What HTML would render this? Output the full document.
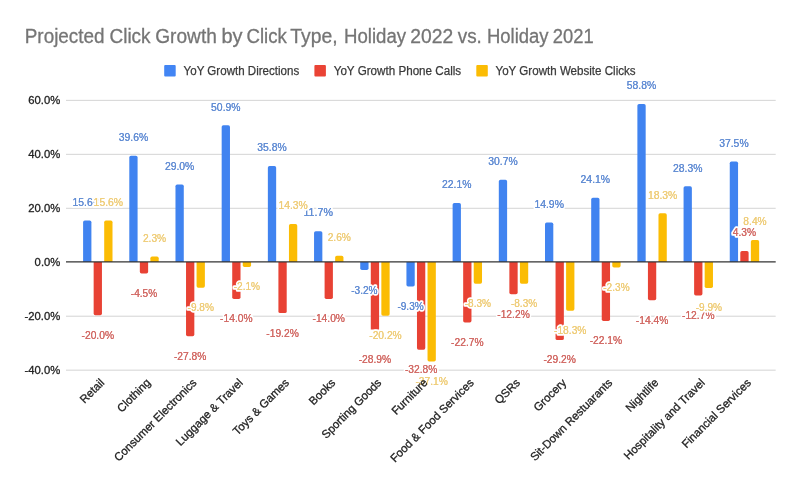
<!DOCTYPE html><html><head><meta charset="utf-8"><style>html,body{margin:0;padding:0;background:#fff}svg{display:block}text{font-family:"Liberation Sans",sans-serif}</style></head><body>
<svg width="800" height="494" viewBox="0 0 800 494">
<rect width="800" height="494" fill="#fff"/>
<g opacity="0.999">
<text x="24.75" y="42.9" font-size="20" fill="#757575" stroke="#757575" stroke-width="0.3" textLength="79.85" lengthAdjust="spacingAndGlyphs">Projected</text>
<text x="109.50" y="42.9" font-size="20" fill="#757575" stroke="#757575" stroke-width="0.3" textLength="41.10" lengthAdjust="spacingAndGlyphs">Click</text>
<text x="155.25" y="42.9" font-size="20" fill="#757575" stroke="#757575" stroke-width="0.3" textLength="61.60" lengthAdjust="spacingAndGlyphs">Growth</text>
<text x="221.50" y="42.9" font-size="20" fill="#757575" stroke="#757575" stroke-width="0.3" textLength="21.10" lengthAdjust="spacingAndGlyphs">by</text>
<text x="246.50" y="42.9" font-size="20" fill="#757575" stroke="#757575" stroke-width="0.3" textLength="40.35" lengthAdjust="spacingAndGlyphs">Click</text>
<text x="290.25" y="42.9" font-size="20" fill="#757575" stroke="#757575" stroke-width="0.3" textLength="47.35" lengthAdjust="spacingAndGlyphs">Type,</text>
<text x="344.00" y="42.9" font-size="20" fill="#757575" stroke="#757575" stroke-width="0.3" textLength="62.10" lengthAdjust="spacingAndGlyphs">Holiday</text>
<text x="410.25" y="42.9" font-size="20" fill="#757575" stroke="#757575" stroke-width="0.3" textLength="42.85" lengthAdjust="spacingAndGlyphs">2022</text>
<text x="457.75" y="42.9" font-size="20" fill="#757575" stroke="#757575" stroke-width="0.3" textLength="24.10" lengthAdjust="spacingAndGlyphs">vs.</text>
<text x="487.00" y="42.9" font-size="20" fill="#757575" stroke="#757575" stroke-width="0.3" textLength="61.60" lengthAdjust="spacingAndGlyphs">Holiday</text>
<text x="552.75" y="42.9" font-size="20" fill="#757575" stroke="#757575" stroke-width="0.3" textLength="40.85" lengthAdjust="spacingAndGlyphs">2021</text>
<rect x="164.2" y="64.9" width="11.5" height="11.5" rx="1" fill="#4285f4"/>
<text x="183.6" y="75.1" font-size="12" fill="#3a3a3a" stroke="#3a3a3a" stroke-width="0.25" textLength="115.6" lengthAdjust="spacingAndGlyphs">YoY Growth Directions</text>
<rect x="314.4" y="64.9" width="11.5" height="11.5" rx="1" fill="#ea4335"/>
<text x="333.7" y="75.1" font-size="12" fill="#3a3a3a" stroke="#3a3a3a" stroke-width="0.25" textLength="127.5" lengthAdjust="spacingAndGlyphs">YoY Growth Phone Calls</text>
<rect x="476.3" y="64.9" width="11.5" height="11.5" rx="1" fill="#fbbc04"/>
<text x="495.5" y="75.1" font-size="12" fill="#3a3a3a" stroke="#3a3a3a" stroke-width="0.25" textLength="140.1" lengthAdjust="spacingAndGlyphs">YoY Growth Website Clicks</text>
<line x1="66" x2="775.7" y1="100.37" y2="100.37" stroke="#d4d4d4" stroke-width="1"/>
<line x1="66" x2="775.7" y1="154.33" y2="154.33" stroke="#d4d4d4" stroke-width="1"/>
<line x1="66" x2="775.7" y1="208.29" y2="208.29" stroke="#d4d4d4" stroke-width="1"/>
<line x1="66" x2="775.7" y1="316.21" y2="316.21" stroke="#d4d4d4" stroke-width="1"/>
<line x1="66" x2="775.7" y1="370.17" y2="370.17" stroke="#d4d4d4" stroke-width="1"/>
<text x="60.3" y="104.12" font-size="11.5" fill="#222" stroke="#222" stroke-width="0.3" text-anchor="end" textLength="31.96" lengthAdjust="spacingAndGlyphs">60.0%</text>
<text x="60.3" y="158.08" font-size="11.5" fill="#222" stroke="#222" stroke-width="0.3" text-anchor="end" textLength="31.96" lengthAdjust="spacingAndGlyphs">40.0%</text>
<text x="60.3" y="212.04" font-size="11.5" fill="#222" stroke="#222" stroke-width="0.3" text-anchor="end" textLength="31.96" lengthAdjust="spacingAndGlyphs">20.0%</text>
<text x="60.3" y="266.00" font-size="11.5" fill="#222" stroke="#222" stroke-width="0.3" text-anchor="end" textLength="25.69" lengthAdjust="spacingAndGlyphs">0.0%</text>
<text x="60.3" y="319.96" font-size="11.5" fill="#222" stroke="#222" stroke-width="0.3" text-anchor="end" textLength="35.71" lengthAdjust="spacingAndGlyphs">-20.0%</text>
<text x="60.3" y="373.92" font-size="11.5" fill="#222" stroke="#222" stroke-width="0.3" text-anchor="end" textLength="35.71" lengthAdjust="spacingAndGlyphs">-40.0%</text>
<path d="M83.10,262.0 V222.31 Q83.10,220.61 84.80,220.61 H89.70 Q91.40,220.61 91.40,222.31 V262.0 Z" fill="#4083f0"/>
<path d="M129.29,262.0 V157.56 Q129.29,155.86 130.99,155.86 H135.89 Q137.59,155.86 137.59,157.56 V262.0 Z" fill="#4083f0"/>
<path d="M175.48,262.0 V186.16 Q175.48,184.46 177.18,184.46 H182.08 Q183.78,184.46 183.78,186.16 V262.0 Z" fill="#4083f0"/>
<path d="M221.67,262.0 V127.07 Q221.67,125.37 223.37,125.37 H228.27 Q229.97,125.37 229.97,127.07 V262.0 Z" fill="#4083f0"/>
<path d="M267.86,262.0 V167.81 Q267.86,166.11 269.56,166.11 H274.46 Q276.16,166.11 276.16,167.81 V262.0 Z" fill="#4083f0"/>
<path d="M314.05,262.0 V232.83 Q314.05,231.13 315.75,231.13 H320.65 Q322.35,231.13 322.35,232.83 V262.0 Z" fill="#4083f0"/>
<path d="M360.24,262.0 V268.23 Q360.24,269.93 361.94,269.93 H366.84 Q368.54,269.93 368.54,268.23 V262.0 Z" fill="#4083f0"/>
<path d="M406.43,262.0 V284.69 Q406.43,286.39 408.13,286.39 H413.03 Q414.73,286.39 414.73,284.69 V262.0 Z" fill="#4083f0"/>
<path d="M452.62,262.0 V204.77 Q452.62,203.07 454.32,203.07 H459.22 Q460.92,203.07 460.92,204.77 V262.0 Z" fill="#4083f0"/>
<path d="M498.81,262.0 V181.57 Q498.81,179.87 500.51,179.87 H505.41 Q507.11,179.87 507.11,181.57 V262.0 Z" fill="#4083f0"/>
<path d="M545.00,262.0 V224.20 Q545.00,222.50 546.70,222.50 H551.60 Q553.30,222.50 553.30,224.20 V262.0 Z" fill="#4083f0"/>
<path d="M591.19,262.0 V199.38 Q591.19,197.68 592.89,197.68 H597.79 Q599.49,197.68 599.49,199.38 V262.0 Z" fill="#4083f0"/>
<path d="M637.38,262.0 V105.76 Q637.38,104.06 639.08,104.06 H643.98 Q645.68,104.06 645.68,105.76 V262.0 Z" fill="#4083f0"/>
<path d="M683.57,262.0 V188.05 Q683.57,186.35 685.27,186.35 H690.17 Q691.87,186.35 691.87,188.05 V262.0 Z" fill="#4083f0"/>
<path d="M729.76,262.0 V163.22 Q729.76,161.53 731.46,161.53 H736.36 Q738.06,161.53 738.06,163.22 V262.0 Z" fill="#4083f0"/>
<path d="M93.65,262.0 V313.56 Q93.65,315.26 95.35,315.26 H100.25 Q101.95,315.26 101.95,313.56 V262.0 Z" fill="#e84234"/>
<path d="M139.84,262.0 V271.74 Q139.84,273.44 141.54,273.44 H146.44 Q148.14,273.44 148.14,271.74 V262.0 Z" fill="#e84234"/>
<path d="M186.03,262.0 V334.60 Q186.03,336.30 187.73,336.30 H192.63 Q194.33,336.30 194.33,334.60 V262.0 Z" fill="#e84234"/>
<path d="M232.22,262.0 V297.37 Q232.22,299.07 233.92,299.07 H238.82 Q240.52,299.07 240.52,297.37 V262.0 Z" fill="#e84234"/>
<path d="M278.41,262.0 V311.40 Q278.41,313.10 280.11,313.10 H285.01 Q286.71,313.10 286.71,311.40 V262.0 Z" fill="#e84234"/>
<path d="M324.60,262.0 V297.37 Q324.60,299.07 326.30,299.07 H331.20 Q332.90,299.07 332.90,297.37 V262.0 Z" fill="#e84234"/>
<path d="M370.79,262.0 V337.57 Q370.79,339.27 372.49,339.27 H377.39 Q379.09,339.27 379.09,337.57 V262.0 Z" fill="#e84234"/>
<path d="M416.98,262.0 V348.09 Q416.98,349.79 418.68,349.79 H423.58 Q425.28,349.79 425.28,348.09 V262.0 Z" fill="#e84234"/>
<path d="M463.17,262.0 V320.84 Q463.17,322.54 464.87,322.54 H469.77 Q471.47,322.54 471.47,320.84 V262.0 Z" fill="#e84234"/>
<path d="M509.36,262.0 V292.52 Q509.36,294.22 511.06,294.22 H515.96 Q517.66,294.22 517.66,292.52 V262.0 Z" fill="#e84234"/>
<path d="M555.55,262.0 V338.38 Q555.55,340.08 557.25,340.08 H562.15 Q563.85,340.08 563.85,338.38 V262.0 Z" fill="#e84234"/>
<path d="M601.74,262.0 V319.23 Q601.74,320.93 603.44,320.93 H608.34 Q610.04,320.93 610.04,319.23 V262.0 Z" fill="#e84234"/>
<path d="M647.93,262.0 V298.45 Q647.93,300.15 649.63,300.15 H654.53 Q656.23,300.15 656.23,298.45 V262.0 Z" fill="#e84234"/>
<path d="M694.12,262.0 V293.86 Q694.12,295.56 695.82,295.56 H700.72 Q702.42,295.56 702.42,293.86 V262.0 Z" fill="#e84234"/>
<path d="M740.31,262.0 V252.80 Q740.31,251.10 742.01,251.10 H746.91 Q748.61,251.10 748.61,252.80 V262.0 Z" fill="#e84234"/>
<path d="M104.20,262.0 V222.31 Q104.20,220.61 105.90,220.61 H110.80 Q112.50,220.61 112.50,222.31 V262.0 Z" fill="#fbbc04"/>
<path d="M150.39,262.0 V258.19 Q150.39,256.49 152.09,256.49 H156.99 Q158.69,256.49 158.69,258.19 V262.0 Z" fill="#fbbc04"/>
<path d="M196.58,262.0 V286.04 Q196.58,287.74 198.28,287.74 H203.18 Q204.88,287.74 204.88,286.04 V262.0 Z" fill="#fbbc04"/>
<path d="M242.77,262.0 V265.27 Q242.77,266.97 244.47,266.97 H249.37 Q251.07,266.97 251.07,265.27 V262.0 Z" fill="#fbbc04"/>
<path d="M288.96,262.0 V225.82 Q288.96,224.12 290.66,224.12 H295.56 Q297.26,224.12 297.26,225.82 V262.0 Z" fill="#fbbc04"/>
<path d="M335.15,262.0 V257.39 Q335.15,255.69 336.85,255.69 H341.75 Q343.45,255.69 343.45,257.39 V262.0 Z" fill="#fbbc04"/>
<path d="M381.34,262.0 V314.10 Q381.34,315.80 383.04,315.80 H387.94 Q389.64,315.80 389.64,314.10 V262.0 Z" fill="#fbbc04"/>
<path d="M427.53,262.0 V359.70 Q427.53,361.40 429.23,361.40 H434.13 Q435.83,361.40 435.83,359.70 V262.0 Z" fill="#fbbc04"/>
<path d="M473.72,262.0 V281.99 Q473.72,283.69 475.42,283.69 H480.32 Q482.02,283.69 482.02,281.99 V262.0 Z" fill="#fbbc04"/>
<path d="M519.91,262.0 V281.99 Q519.91,283.69 521.61,283.69 H526.51 Q528.21,283.69 528.21,281.99 V262.0 Z" fill="#fbbc04"/>
<path d="M566.10,262.0 V308.97 Q566.10,310.67 567.80,310.67 H572.70 Q574.40,310.67 574.40,308.97 V262.0 Z" fill="#fbbc04"/>
<path d="M612.29,262.0 V265.81 Q612.29,267.51 613.99,267.51 H618.89 Q620.59,267.51 620.59,265.81 V262.0 Z" fill="#fbbc04"/>
<path d="M658.48,262.0 V215.03 Q658.48,213.33 660.18,213.33 H665.08 Q666.78,213.33 666.78,215.03 V262.0 Z" fill="#fbbc04"/>
<path d="M704.67,262.0 V286.31 Q704.67,288.01 706.37,288.01 H711.27 Q712.97,288.01 712.97,286.31 V262.0 Z" fill="#fbbc04"/>
<path d="M750.86,262.0 V241.74 Q750.86,240.04 752.56,240.04 H757.46 Q759.16,240.04 759.16,241.74 V262.0 Z" fill="#fbbc04"/>
<line x1="66" x2="775.7" y1="261.9" y2="261.9" stroke="#333" stroke-width="1.2"/>
<text x="87.25" y="205.81" font-size="11" fill="#628dd4" text-anchor="middle" stroke="#fff" stroke-width="3.7" stroke-linejoin="round" paint-order="stroke" textLength="29.47" lengthAdjust="spacingAndGlyphs">15.6%</text>
<text x="87.25" y="205.81" font-size="11" fill="#628dd4" text-anchor="middle" stroke="#628dd4" stroke-width="0.12" textLength="29.47" lengthAdjust="spacingAndGlyphs">15.6%</text>
<text x="133.44" y="141.06" font-size="11" fill="#628dd4" text-anchor="middle" stroke="#fff" stroke-width="3.7" stroke-linejoin="round" paint-order="stroke" textLength="29.47" lengthAdjust="spacingAndGlyphs">39.6%</text>
<text x="133.44" y="141.06" font-size="11" fill="#628dd4" text-anchor="middle" stroke="#628dd4" stroke-width="0.12" textLength="29.47" lengthAdjust="spacingAndGlyphs">39.6%</text>
<text x="179.63" y="169.66" font-size="11" fill="#628dd4" text-anchor="middle" stroke="#fff" stroke-width="3.7" stroke-linejoin="round" paint-order="stroke" textLength="29.47" lengthAdjust="spacingAndGlyphs">29.0%</text>
<text x="179.63" y="169.66" font-size="11" fill="#628dd4" text-anchor="middle" stroke="#628dd4" stroke-width="0.12" textLength="29.47" lengthAdjust="spacingAndGlyphs">29.0%</text>
<text x="225.82" y="110.57" font-size="11" fill="#628dd4" text-anchor="middle" stroke="#fff" stroke-width="3.7" stroke-linejoin="round" paint-order="stroke" textLength="29.47" lengthAdjust="spacingAndGlyphs">50.9%</text>
<text x="225.82" y="110.57" font-size="11" fill="#628dd4" text-anchor="middle" stroke="#628dd4" stroke-width="0.12" textLength="29.47" lengthAdjust="spacingAndGlyphs">50.9%</text>
<text x="272.01" y="151.31" font-size="11" fill="#628dd4" text-anchor="middle" stroke="#fff" stroke-width="3.7" stroke-linejoin="round" paint-order="stroke" textLength="29.47" lengthAdjust="spacingAndGlyphs">35.8%</text>
<text x="272.01" y="151.31" font-size="11" fill="#628dd4" text-anchor="middle" stroke="#628dd4" stroke-width="0.12" textLength="29.47" lengthAdjust="spacingAndGlyphs">35.8%</text>
<text x="318.20" y="216.33" font-size="11" fill="#628dd4" text-anchor="middle" stroke="#fff" stroke-width="3.7" stroke-linejoin="round" paint-order="stroke" textLength="29.47" lengthAdjust="spacingAndGlyphs">11.7%</text>
<text x="318.20" y="216.33" font-size="11" fill="#628dd4" text-anchor="middle" stroke="#628dd4" stroke-width="0.12" textLength="29.47" lengthAdjust="spacingAndGlyphs">11.7%</text>
<text x="364.39" y="294.33" font-size="11" fill="#628dd4" text-anchor="middle" stroke="#fff" stroke-width="3.7" stroke-linejoin="round" paint-order="stroke" textLength="26.33" lengthAdjust="spacingAndGlyphs">-3.2%</text>
<text x="364.39" y="294.33" font-size="11" fill="#628dd4" text-anchor="middle" stroke="#628dd4" stroke-width="0.12" textLength="26.33" lengthAdjust="spacingAndGlyphs">-3.2%</text>
<text x="410.58" y="309.79" font-size="11" fill="#628dd4" text-anchor="middle" stroke="#fff" stroke-width="3.7" stroke-linejoin="round" paint-order="stroke" textLength="26.33" lengthAdjust="spacingAndGlyphs">-9.3%</text>
<text x="410.58" y="309.79" font-size="11" fill="#628dd4" text-anchor="middle" stroke="#628dd4" stroke-width="0.12" textLength="26.33" lengthAdjust="spacingAndGlyphs">-9.3%</text>
<text x="456.77" y="188.27" font-size="11" fill="#628dd4" text-anchor="middle" stroke="#fff" stroke-width="3.7" stroke-linejoin="round" paint-order="stroke" textLength="29.47" lengthAdjust="spacingAndGlyphs">22.1%</text>
<text x="456.77" y="188.27" font-size="11" fill="#628dd4" text-anchor="middle" stroke="#628dd4" stroke-width="0.12" textLength="29.47" lengthAdjust="spacingAndGlyphs">22.1%</text>
<text x="502.96" y="165.07" font-size="11" fill="#628dd4" text-anchor="middle" stroke="#fff" stroke-width="3.7" stroke-linejoin="round" paint-order="stroke" textLength="29.47" lengthAdjust="spacingAndGlyphs">30.7%</text>
<text x="502.96" y="165.07" font-size="11" fill="#628dd4" text-anchor="middle" stroke="#628dd4" stroke-width="0.12" textLength="29.47" lengthAdjust="spacingAndGlyphs">30.7%</text>
<text x="549.15" y="207.70" font-size="11" fill="#628dd4" text-anchor="middle" stroke="#fff" stroke-width="3.7" stroke-linejoin="round" paint-order="stroke" textLength="29.47" lengthAdjust="spacingAndGlyphs">14.9%</text>
<text x="549.15" y="207.70" font-size="11" fill="#628dd4" text-anchor="middle" stroke="#628dd4" stroke-width="0.12" textLength="29.47" lengthAdjust="spacingAndGlyphs">14.9%</text>
<text x="595.34" y="182.88" font-size="11" fill="#628dd4" text-anchor="middle" stroke="#fff" stroke-width="3.7" stroke-linejoin="round" paint-order="stroke" textLength="29.47" lengthAdjust="spacingAndGlyphs">24.1%</text>
<text x="595.34" y="182.88" font-size="11" fill="#628dd4" text-anchor="middle" stroke="#628dd4" stroke-width="0.12" textLength="29.47" lengthAdjust="spacingAndGlyphs">24.1%</text>
<text x="641.53" y="89.26" font-size="11" fill="#628dd4" text-anchor="middle" stroke="#fff" stroke-width="3.7" stroke-linejoin="round" paint-order="stroke" textLength="29.47" lengthAdjust="spacingAndGlyphs">58.8%</text>
<text x="641.53" y="89.26" font-size="11" fill="#628dd4" text-anchor="middle" stroke="#628dd4" stroke-width="0.12" textLength="29.47" lengthAdjust="spacingAndGlyphs">58.8%</text>
<text x="687.72" y="171.55" font-size="11" fill="#628dd4" text-anchor="middle" stroke="#fff" stroke-width="3.7" stroke-linejoin="round" paint-order="stroke" textLength="29.47" lengthAdjust="spacingAndGlyphs">28.3%</text>
<text x="687.72" y="171.55" font-size="11" fill="#628dd4" text-anchor="middle" stroke="#628dd4" stroke-width="0.12" textLength="29.47" lengthAdjust="spacingAndGlyphs">28.3%</text>
<text x="733.91" y="146.72" font-size="11" fill="#628dd4" text-anchor="middle" stroke="#fff" stroke-width="3.7" stroke-linejoin="round" paint-order="stroke" textLength="29.47" lengthAdjust="spacingAndGlyphs">37.5%</text>
<text x="733.91" y="146.72" font-size="11" fill="#628dd4" text-anchor="middle" stroke="#628dd4" stroke-width="0.12" textLength="29.47" lengthAdjust="spacingAndGlyphs">37.5%</text>
<text x="97.80" y="338.66" font-size="11" fill="#d26a65" text-anchor="middle" stroke="#fff" stroke-width="3.7" stroke-linejoin="round" paint-order="stroke" textLength="32.51" lengthAdjust="spacingAndGlyphs">-20.0%</text>
<text x="97.80" y="338.66" font-size="11" fill="#d26a65" text-anchor="middle" stroke="#d26a65" stroke-width="0.12" textLength="32.51" lengthAdjust="spacingAndGlyphs">-20.0%</text>
<text x="143.99" y="296.84" font-size="11" fill="#d26a65" text-anchor="middle" stroke="#fff" stroke-width="3.7" stroke-linejoin="round" paint-order="stroke" textLength="26.33" lengthAdjust="spacingAndGlyphs">-4.5%</text>
<text x="143.99" y="296.84" font-size="11" fill="#d26a65" text-anchor="middle" stroke="#d26a65" stroke-width="0.12" textLength="26.33" lengthAdjust="spacingAndGlyphs">-4.5%</text>
<text x="190.18" y="359.70" font-size="11" fill="#d26a65" text-anchor="middle" stroke="#fff" stroke-width="3.7" stroke-linejoin="round" paint-order="stroke" textLength="32.51" lengthAdjust="spacingAndGlyphs">-27.8%</text>
<text x="190.18" y="359.70" font-size="11" fill="#d26a65" text-anchor="middle" stroke="#d26a65" stroke-width="0.12" textLength="32.51" lengthAdjust="spacingAndGlyphs">-27.8%</text>
<text x="236.37" y="322.47" font-size="11" fill="#d26a65" text-anchor="middle" stroke="#fff" stroke-width="3.7" stroke-linejoin="round" paint-order="stroke" textLength="32.51" lengthAdjust="spacingAndGlyphs">-14.0%</text>
<text x="236.37" y="322.47" font-size="11" fill="#d26a65" text-anchor="middle" stroke="#d26a65" stroke-width="0.12" textLength="32.51" lengthAdjust="spacingAndGlyphs">-14.0%</text>
<text x="282.56" y="336.50" font-size="11" fill="#d26a65" text-anchor="middle" stroke="#fff" stroke-width="3.7" stroke-linejoin="round" paint-order="stroke" textLength="32.51" lengthAdjust="spacingAndGlyphs">-19.2%</text>
<text x="282.56" y="336.50" font-size="11" fill="#d26a65" text-anchor="middle" stroke="#d26a65" stroke-width="0.12" textLength="32.51" lengthAdjust="spacingAndGlyphs">-19.2%</text>
<text x="328.75" y="322.47" font-size="11" fill="#d26a65" text-anchor="middle" stroke="#fff" stroke-width="3.7" stroke-linejoin="round" paint-order="stroke" textLength="32.51" lengthAdjust="spacingAndGlyphs">-14.0%</text>
<text x="328.75" y="322.47" font-size="11" fill="#d26a65" text-anchor="middle" stroke="#d26a65" stroke-width="0.12" textLength="32.51" lengthAdjust="spacingAndGlyphs">-14.0%</text>
<text x="374.94" y="362.67" font-size="11" fill="#d26a65" text-anchor="middle" stroke="#fff" stroke-width="3.7" stroke-linejoin="round" paint-order="stroke" textLength="32.51" lengthAdjust="spacingAndGlyphs">-28.9%</text>
<text x="374.94" y="362.67" font-size="11" fill="#d26a65" text-anchor="middle" stroke="#d26a65" stroke-width="0.12" textLength="32.51" lengthAdjust="spacingAndGlyphs">-28.9%</text>
<text x="421.13" y="373.19" font-size="11" fill="#d26a65" text-anchor="middle" stroke="#fff" stroke-width="3.7" stroke-linejoin="round" paint-order="stroke" textLength="32.51" lengthAdjust="spacingAndGlyphs">-32.8%</text>
<text x="421.13" y="373.19" font-size="11" fill="#d26a65" text-anchor="middle" stroke="#d26a65" stroke-width="0.12" textLength="32.51" lengthAdjust="spacingAndGlyphs">-32.8%</text>
<text x="467.32" y="345.94" font-size="11" fill="#d26a65" text-anchor="middle" stroke="#fff" stroke-width="3.7" stroke-linejoin="round" paint-order="stroke" textLength="32.51" lengthAdjust="spacingAndGlyphs">-22.7%</text>
<text x="467.32" y="345.94" font-size="11" fill="#d26a65" text-anchor="middle" stroke="#d26a65" stroke-width="0.12" textLength="32.51" lengthAdjust="spacingAndGlyphs">-22.7%</text>
<text x="513.51" y="317.62" font-size="11" fill="#d26a65" text-anchor="middle" stroke="#fff" stroke-width="3.7" stroke-linejoin="round" paint-order="stroke" textLength="32.51" lengthAdjust="spacingAndGlyphs">-12.2%</text>
<text x="513.51" y="317.62" font-size="11" fill="#d26a65" text-anchor="middle" stroke="#d26a65" stroke-width="0.12" textLength="32.51" lengthAdjust="spacingAndGlyphs">-12.2%</text>
<text x="559.70" y="363.48" font-size="11" fill="#d26a65" text-anchor="middle" stroke="#fff" stroke-width="3.7" stroke-linejoin="round" paint-order="stroke" textLength="32.51" lengthAdjust="spacingAndGlyphs">-29.2%</text>
<text x="559.70" y="363.48" font-size="11" fill="#d26a65" text-anchor="middle" stroke="#d26a65" stroke-width="0.12" textLength="32.51" lengthAdjust="spacingAndGlyphs">-29.2%</text>
<text x="605.89" y="344.33" font-size="11" fill="#d26a65" text-anchor="middle" stroke="#fff" stroke-width="3.7" stroke-linejoin="round" paint-order="stroke" textLength="32.51" lengthAdjust="spacingAndGlyphs">-22.1%</text>
<text x="605.89" y="344.33" font-size="11" fill="#d26a65" text-anchor="middle" stroke="#d26a65" stroke-width="0.12" textLength="32.51" lengthAdjust="spacingAndGlyphs">-22.1%</text>
<text x="652.08" y="323.55" font-size="11" fill="#d26a65" text-anchor="middle" stroke="#fff" stroke-width="3.7" stroke-linejoin="round" paint-order="stroke" textLength="32.51" lengthAdjust="spacingAndGlyphs">-14.4%</text>
<text x="652.08" y="323.55" font-size="11" fill="#d26a65" text-anchor="middle" stroke="#d26a65" stroke-width="0.12" textLength="32.51" lengthAdjust="spacingAndGlyphs">-14.4%</text>
<text x="698.27" y="318.96" font-size="11" fill="#d26a65" text-anchor="middle" stroke="#fff" stroke-width="3.7" stroke-linejoin="round" paint-order="stroke" textLength="32.51" lengthAdjust="spacingAndGlyphs">-12.7%</text>
<text x="698.27" y="318.96" font-size="11" fill="#d26a65" text-anchor="middle" stroke="#d26a65" stroke-width="0.12" textLength="32.51" lengthAdjust="spacingAndGlyphs">-12.7%</text>
<text x="744.46" y="236.30" font-size="11" fill="#d26a65" text-anchor="middle" stroke="#fff" stroke-width="3.7" stroke-linejoin="round" paint-order="stroke" textLength="23.30" lengthAdjust="spacingAndGlyphs">4.3%</text>
<text x="744.46" y="236.30" font-size="11" fill="#d26a65" text-anchor="middle" stroke="#d26a65" stroke-width="0.12" textLength="23.30" lengthAdjust="spacingAndGlyphs">4.3%</text>
<text x="108.35" y="205.81" font-size="11" fill="#efcd7a" text-anchor="middle" stroke="#fff" stroke-width="3.7" stroke-linejoin="round" paint-order="stroke" textLength="29.47" lengthAdjust="spacingAndGlyphs">15.6%</text>
<text x="108.35" y="205.81" font-size="11" fill="#efcd7a" text-anchor="middle" stroke="#efcd7a" stroke-width="0.12" textLength="29.47" lengthAdjust="spacingAndGlyphs">15.6%</text>
<text x="154.54" y="241.69" font-size="11" fill="#efcd7a" text-anchor="middle" stroke="#fff" stroke-width="3.7" stroke-linejoin="round" paint-order="stroke" textLength="23.30" lengthAdjust="spacingAndGlyphs">2.3%</text>
<text x="154.54" y="241.69" font-size="11" fill="#efcd7a" text-anchor="middle" stroke="#efcd7a" stroke-width="0.12" textLength="23.30" lengthAdjust="spacingAndGlyphs">2.3%</text>
<text x="200.73" y="311.14" font-size="11" fill="#efcd7a" text-anchor="middle" stroke="#fff" stroke-width="3.7" stroke-linejoin="round" paint-order="stroke" textLength="26.33" lengthAdjust="spacingAndGlyphs">-9.8%</text>
<text x="200.73" y="311.14" font-size="11" fill="#efcd7a" text-anchor="middle" stroke="#efcd7a" stroke-width="0.12" textLength="26.33" lengthAdjust="spacingAndGlyphs">-9.8%</text>
<text x="246.92" y="290.37" font-size="11" fill="#efcd7a" text-anchor="middle" stroke="#fff" stroke-width="3.7" stroke-linejoin="round" paint-order="stroke" textLength="26.33" lengthAdjust="spacingAndGlyphs">-2.1%</text>
<text x="246.92" y="290.37" font-size="11" fill="#efcd7a" text-anchor="middle" stroke="#efcd7a" stroke-width="0.12" textLength="26.33" lengthAdjust="spacingAndGlyphs">-2.1%</text>
<text x="293.11" y="209.32" font-size="11" fill="#efcd7a" text-anchor="middle" stroke="#fff" stroke-width="3.7" stroke-linejoin="round" paint-order="stroke" textLength="29.47" lengthAdjust="spacingAndGlyphs">14.3%</text>
<text x="293.11" y="209.32" font-size="11" fill="#efcd7a" text-anchor="middle" stroke="#efcd7a" stroke-width="0.12" textLength="29.47" lengthAdjust="spacingAndGlyphs">14.3%</text>
<text x="339.30" y="240.89" font-size="11" fill="#efcd7a" text-anchor="middle" stroke="#fff" stroke-width="3.7" stroke-linejoin="round" paint-order="stroke" textLength="23.30" lengthAdjust="spacingAndGlyphs">2.6%</text>
<text x="339.30" y="240.89" font-size="11" fill="#efcd7a" text-anchor="middle" stroke="#efcd7a" stroke-width="0.12" textLength="23.30" lengthAdjust="spacingAndGlyphs">2.6%</text>
<rect x="369.5" y="329.5" width="10.5" height="12" fill="#fff"/>
<text x="385.49" y="339.20" font-size="11" fill="#efcd7a" text-anchor="middle" stroke="#fff" stroke-width="3.7" stroke-linejoin="round" paint-order="stroke" textLength="32.51" lengthAdjust="spacingAndGlyphs">-20.2%</text>
<text x="385.49" y="339.20" font-size="11" fill="#efcd7a" text-anchor="middle" stroke="#efcd7a" stroke-width="0.12" textLength="32.51" lengthAdjust="spacingAndGlyphs">-20.2%</text>
<text x="431.68" y="384.80" font-size="11" fill="#efcd7a" text-anchor="middle" stroke="#fff" stroke-width="3.7" stroke-linejoin="round" paint-order="stroke" textLength="32.51" lengthAdjust="spacingAndGlyphs">-37.1%</text>
<text x="431.68" y="384.80" font-size="11" fill="#efcd7a" text-anchor="middle" stroke="#efcd7a" stroke-width="0.12" textLength="32.51" lengthAdjust="spacingAndGlyphs">-37.1%</text>
<text x="477.87" y="307.09" font-size="11" fill="#efcd7a" text-anchor="middle" stroke="#fff" stroke-width="3.7" stroke-linejoin="round" paint-order="stroke" textLength="26.33" lengthAdjust="spacingAndGlyphs">-8.3%</text>
<text x="477.87" y="307.09" font-size="11" fill="#efcd7a" text-anchor="middle" stroke="#efcd7a" stroke-width="0.12" textLength="26.33" lengthAdjust="spacingAndGlyphs">-8.3%</text>
<text x="524.06" y="307.09" font-size="11" fill="#efcd7a" text-anchor="middle" stroke="#fff" stroke-width="3.7" stroke-linejoin="round" paint-order="stroke" textLength="26.33" lengthAdjust="spacingAndGlyphs">-8.3%</text>
<text x="524.06" y="307.09" font-size="11" fill="#efcd7a" text-anchor="middle" stroke="#efcd7a" stroke-width="0.12" textLength="26.33" lengthAdjust="spacingAndGlyphs">-8.3%</text>
<text x="570.25" y="334.07" font-size="11" fill="#efcd7a" text-anchor="middle" stroke="#fff" stroke-width="3.7" stroke-linejoin="round" paint-order="stroke" textLength="32.51" lengthAdjust="spacingAndGlyphs">-18.3%</text>
<text x="570.25" y="334.07" font-size="11" fill="#efcd7a" text-anchor="middle" stroke="#efcd7a" stroke-width="0.12" textLength="32.51" lengthAdjust="spacingAndGlyphs">-18.3%</text>
<text x="616.44" y="290.91" font-size="11" fill="#efcd7a" text-anchor="middle" stroke="#fff" stroke-width="3.7" stroke-linejoin="round" paint-order="stroke" textLength="26.33" lengthAdjust="spacingAndGlyphs">-2.3%</text>
<text x="616.44" y="290.91" font-size="11" fill="#efcd7a" text-anchor="middle" stroke="#efcd7a" stroke-width="0.12" textLength="26.33" lengthAdjust="spacingAndGlyphs">-2.3%</text>
<text x="662.63" y="198.53" font-size="11" fill="#efcd7a" text-anchor="middle" stroke="#fff" stroke-width="3.7" stroke-linejoin="round" paint-order="stroke" textLength="29.47" lengthAdjust="spacingAndGlyphs">18.3%</text>
<text x="662.63" y="198.53" font-size="11" fill="#efcd7a" text-anchor="middle" stroke="#efcd7a" stroke-width="0.12" textLength="29.47" lengthAdjust="spacingAndGlyphs">18.3%</text>
<text x="708.82" y="311.41" font-size="11" fill="#efcd7a" text-anchor="middle" stroke="#fff" stroke-width="3.7" stroke-linejoin="round" paint-order="stroke" textLength="26.33" lengthAdjust="spacingAndGlyphs">-9.9%</text>
<text x="708.82" y="311.41" font-size="11" fill="#efcd7a" text-anchor="middle" stroke="#efcd7a" stroke-width="0.12" textLength="26.33" lengthAdjust="spacingAndGlyphs">-9.9%</text>
<text x="755.01" y="225.24" font-size="11" fill="#efcd7a" text-anchor="middle" stroke="#fff" stroke-width="3.7" stroke-linejoin="round" paint-order="stroke" textLength="23.30" lengthAdjust="spacingAndGlyphs">8.4%</text>
<text x="755.01" y="225.24" font-size="11" fill="#efcd7a" text-anchor="middle" stroke="#efcd7a" stroke-width="0.12" textLength="23.30" lengthAdjust="spacingAndGlyphs">8.4%</text>
<text transform="translate(105.00,383.4) rotate(-45)" font-size="11.5" fill="#222" stroke="#222" stroke-width="0.3" text-anchor="end" textLength="29.08" lengthAdjust="spacingAndGlyphs">Retail</text>
<text transform="translate(151.19,383.4) rotate(-45)" font-size="11.5" fill="#222" stroke="#222" stroke-width="0.3" text-anchor="end" textLength="41.73" lengthAdjust="spacingAndGlyphs">Clothing</text>
<text transform="translate(197.38,383.4) rotate(-45)" font-size="11.5" fill="#222" stroke="#222" stroke-width="0.3" text-anchor="end" textLength="111.25" lengthAdjust="spacingAndGlyphs">Consumer Electronics</text>
<text transform="translate(243.57,383.4) rotate(-45)" font-size="11.5" fill="#222" stroke="#222" stroke-width="0.3" text-anchor="end" textLength="89.16" lengthAdjust="spacingAndGlyphs">Luggage &amp; Travel</text>
<text transform="translate(289.76,383.4) rotate(-45)" font-size="11.5" fill="#222" stroke="#222" stroke-width="0.3" text-anchor="end" textLength="73.95" lengthAdjust="spacingAndGlyphs">Toys &amp; Games</text>
<text transform="translate(335.95,383.4) rotate(-45)" font-size="11.5" fill="#222" stroke="#222" stroke-width="0.3" text-anchor="end" textLength="31.61" lengthAdjust="spacingAndGlyphs">Books</text>
<text transform="translate(382.14,383.4) rotate(-45)" font-size="11.5" fill="#222" stroke="#222" stroke-width="0.3" text-anchor="end" textLength="79.03" lengthAdjust="spacingAndGlyphs">Sporting Goods</text>
<text transform="translate(428.33,383.4) rotate(-45)" font-size="11.5" fill="#222" stroke="#222" stroke-width="0.3" text-anchor="end" textLength="45.51" lengthAdjust="spacingAndGlyphs">Furniture</text>
<text transform="translate(474.52,383.4) rotate(-45)" font-size="11.5" fill="#222" stroke="#222" stroke-width="0.3" text-anchor="end" textLength="112.52" lengthAdjust="spacingAndGlyphs">Food &amp; Food Services</text>
<text transform="translate(520.71,383.4) rotate(-45)" font-size="11.5" fill="#222" stroke="#222" stroke-width="0.3" text-anchor="end" textLength="30.33" lengthAdjust="spacingAndGlyphs">QSRs</text>
<text transform="translate(566.90,383.4) rotate(-45)" font-size="11.5" fill="#222" stroke="#222" stroke-width="0.3" text-anchor="end" textLength="40.45" lengthAdjust="spacingAndGlyphs">Grocery</text>
<text transform="translate(613.09,383.4) rotate(-45)" font-size="11.5" fill="#222" stroke="#222" stroke-width="0.3" text-anchor="end" textLength="110.62" lengthAdjust="spacingAndGlyphs">Sit-Down Restuarants</text>
<text transform="translate(659.28,383.4) rotate(-45)" font-size="11.5" fill="#222" stroke="#222" stroke-width="0.3" text-anchor="end" textLength="41.09" lengthAdjust="spacingAndGlyphs">Nightlife</text>
<text transform="translate(705.47,383.4) rotate(-45)" font-size="11.5" fill="#222" stroke="#222" stroke-width="0.3" text-anchor="end" textLength="108.73" lengthAdjust="spacingAndGlyphs">Hospitality and Travel</text>
<text transform="translate(751.66,383.4) rotate(-45)" font-size="11.5" fill="#222" stroke="#222" stroke-width="0.3" text-anchor="end" textLength="92.29" lengthAdjust="spacingAndGlyphs">Financial Services</text>
</g></svg></body></html>
